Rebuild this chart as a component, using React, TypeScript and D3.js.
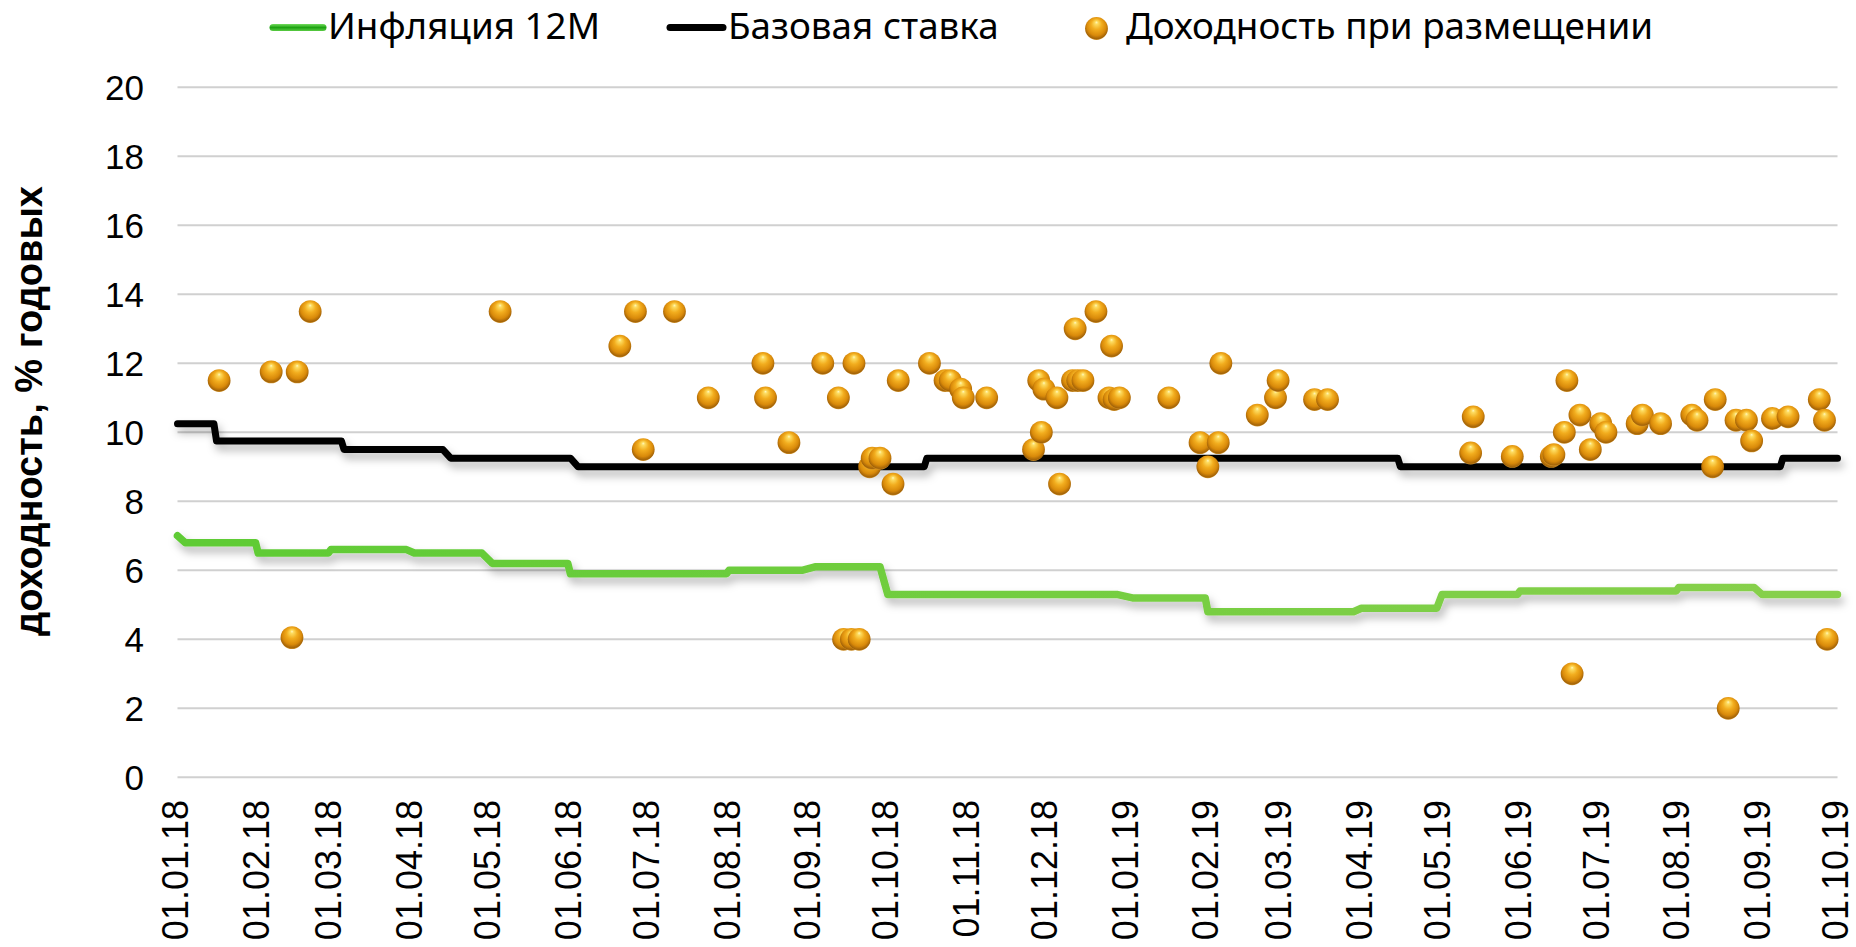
import React from "react";
import * as d3 from "d3";

// ---------- data ----------
const xTickLabels = [
  "01.01.18", "01.02.18", "01.03.18", "01.04.18", "01.05.18", "01.06.18",
  "01.07.18", "01.08.18", "01.09.18", "01.10.18", "01.11.18", "01.12.18",
  "01.01.19", "01.02.19", "01.03.19", "01.04.19", "01.05.19", "01.06.19",
  "01.07.19", "01.08.19", "01.09.19", "01.10.19",
];
const yTicks = [0, 2, 4, 6, 8, 10, 12, 14, 16, 18, 20];

const inflationDates = [
  "01.01.18", "04.01.18", "31.01.18", "01.02.18", "28.02.18", "01.03.18",
  "30.03.18", "02.04.18", "28.04.18", "02.05.18", "31.05.18", "01.06.18",
  "31.07.18", "01.08.18", "29.08.18", "03.09.18", "28.09.18", "01.10.18",
  "28.12.18", "03.01.19", "31.01.19", "01.02.19", "29.03.19", "01.04.19",
  "30.04.19", "02.05.19", "31.05.19", "01.06.19", "31.07.19", "01.08.19",
  "30.08.19", "02.09.19", "01.10.19",
];
const inflationValues = [
  7.0, 6.8, 6.8, 6.5, 6.5, 6.6,
  6.6, 6.5, 6.5, 6.2, 6.2, 5.9,
  5.9, 6.0, 6.0, 6.1, 6.1, 5.3,
  5.3, 5.2, 5.2, 4.8, 4.8, 4.9,
  4.9, 5.3, 5.3, 5.4, 5.4, 5.5,
  5.5, 5.3, 5.3,
];

const keyRateDates = [
  "01.01.18", "15.01.18", "16.01.18", "05.03.18", "06.03.18", "13.04.18",
  "16.04.18", "01.06.18", "04.06.18", "15.10.18", "16.10.18", "15.04.19",
  "16.04.19", "09.09.19", "10.09.19", "01.10.19",
];
const keyRateValues = [
  10.25, 10.25, 9.75, 9.75, 9.5, 9.5,
  9.25, 9.25, 9.0, 9.0, 9.25, 9.25,
  9.0, 9.0, 9.25, 9.25,
];

const placementDates = [
  "17.01.18", "06.02.18", "14.02.18", "16.02.18", "21.02.18", "05.05.18",
  "20.06.18", "26.06.18", "29.06.18", "11.07.18", "24.07.18", "14.08.18",
  "15.08.18", "24.08.18", "06.09.18", "12.09.18", "14.09.18", "17.09.18",
  "20.09.18", "18.09.18", "24.09.18", "25.09.18", "28.09.18", "03.10.18",
  "05.10.18", "17.10.18", "23.10.18", "25.10.18", "29.10.18", "30.10.18",
  "08.11.18", "26.11.18", "28.11.18", "29.11.18", "30.11.18", "05.12.18",
  "06.12.18", "11.12.18", "12.12.18", "13.12.18", "15.12.18", "20.12.18",
  "25.12.18", "26.12.18", "27.12.18", "29.12.18", "17.01.19", "29.01.19",
  "01.02.19", "05.02.19", "06.02.19", "20.02.19", "27.02.19", "28.02.19",
  "14.03.19", "19.03.19", "13.05.19", "14.05.19", "29.05.19", "13.06.19",
  "14.06.19", "18.06.19", "19.06.19", "21.06.19", "24.06.19", "28.06.19",
  "02.07.19", "04.07.19", "16.07.19", "18.07.19", "25.07.19", "06.08.19",
  "08.08.19", "14.08.19", "15.08.19", "20.08.19", "23.08.19", "27.08.19",
  "29.08.19", "06.09.19", "12.09.19", "24.09.19", "26.09.19", "27.09.19",
];
const placementYields = [
  11.5, 11.75, 4.05, 11.75, 13.5, 13.5,
  12.5, 13.5, 9.5, 13.5, 11.0, 12.0,
  11.0, 9.7, 12.0, 11.0, 4.0, 4.0,
  4.0, 12.0, 9.0, 9.25, 9.25, 8.5,
  11.5, 12.0, 11.5, 11.5, 11.25, 11.0,
  11.0, 9.5, 11.5, 10.0, 11.25, 11.0,
  8.5, 11.5, 13.0, 11.5, 11.5, 13.5,
  11.0, 12.5, 10.95, 11.0, 11.0, 9.7,
  9.0, 9.7, 12.0, 10.5, 11.0, 11.5,
  10.95, 10.95, 9.4, 10.45, 9.3, 9.3,
  9.35, 10.0, 11.5, 3.0, 10.5, 9.5,
  10.25, 10.0, 10.25, 10.5, 10.25, 10.5,
  10.35, 9.0, 10.95, 2.0, 10.35, 10.35,
  9.75, 10.4, 10.45, 10.95, 10.35, 4.0,
];

const legendLabels = ["Инфляция 12М", "Базовая ставка", "Доходность при размещении"];
const yAxisTitle = "доходность, % годовых";

// ---------- chart ----------
const W = 1856;
const H = 947;
const parse = d3.timeParse("%d.%m.%y");
const sans = "'Liberation Sans', Arial, sans-serif";
const legendFont = "'Noto Sans', 'Open Sans', sans-serif";

export default function App() {
  const x = d3
    .scaleTime()
    .domain([parse(xTickLabels[0])!, parse(xTickLabels[xTickLabels.length - 1])!])
    .range([177.5, 1837.5]);
  const y = d3.scaleLinear().domain([0, 20]).range([777.3, 87.3]);

  const line = d3
    .line<[Date, number]>()
    .x((d) => x(d[0]))
    .y((d) => y(d[1]));

  const inflation: [Date, number][] = inflationDates.map((d, i) => [parse(d)!, inflationValues[i]]);
  const keyRate: [Date, number][] = keyRateDates.map((d, i) => [parse(d)!, keyRateValues[i]]);
  const points = placementDates.map((d, i) => ({ date: parse(d)!, v: placementYields[i] }));

  const r = 11.4;
  const [x0, x1] = x.range();

  return (
    <svg
      width={W}
      height={H}
      style={{ position: "absolute", left: 0, top: 0, background: "#fff" }}
    >
      <defs>
        <radialGradient id="ball" cx="50%" cy="45%" r="58%" fx="50%" fy="22%">
          <stop offset="0%" stopColor="#fff8c0" />
          <stop offset="12%" stopColor="#fddc60" />
          <stop offset="40%" stopColor="#f2ad1e" />
          <stop offset="72%" stopColor="#d98a0a" />
          <stop offset="90%" stopColor="#a46408" />
          <stop offset="100%" stopColor="#e6a93a" />
        </radialGradient>
        <linearGradient id="greenLine" gradientUnits="userSpaceOnUse" x1={x0} x2={x1} y1="0" y2="0">
          <stop offset="0%" stopColor="#5ecb34" />
          <stop offset="100%" stopColor="#88d04c" />
        </linearGradient>
        <linearGradient id="greenLegend" gradientUnits="userSpaceOnUse" x1="0" x2="0" y1="24" y2="31">
          <stop offset="0%" stopColor="#74dd5e" />
          <stop offset="50%" stopColor="#1ea312" />
          <stop offset="100%" stopColor="#5acb44" />
        </linearGradient>
        <filter id="shadow" x="-5%" y="-50%" width="110%" height="200%">
          <feDropShadow dx="3" dy="6" stdDeviation="4" floodColor="#000" floodOpacity="0.28" />
        </filter>
      </defs>

      {/* gridlines */}
      <g>
        {yTicks.map((t) => (
          <line key={t} x1={x0} x2={x1} y1={y(t)} y2={y(t)} stroke="#d0d0d0" strokeWidth={2} />
        ))}
      </g>

      {/* y tick labels */}
      <g fontFamily={sans} fontSize={35} fill="#000" textAnchor="end">
        {yTicks.map((t) => (
          <text key={t} x={144} y={y(t)} dy="0.36em">
            {t}
          </text>
        ))}
      </g>

      {/* y axis title */}
      <text
        transform={`translate(42, ${411}) rotate(-90)`}
        textAnchor="middle"
        fontFamily={sans}
        fontWeight="bold"
        fontSize={38}
        fill="#000"
      >
        {yAxisTitle}
      </text>

      {/* x tick labels */}
      <g fontFamily={sans} fontSize={36} fill="#000">
        {xTickLabels.map((l) => {
          const px = x(parse(l)!);
          return (
            <text
              key={l}
              transform={`translate(${px}, 800) rotate(-90)`}
              textAnchor="end"
              dy="0.29em"
            >
              {l}
            </text>
          );
        })}
      </g>

      {/* lines */}
      <path
        d={line(inflation) ?? ""}
        fill="none"
        stroke="url(#greenLine)"
        strokeWidth={7.5}
        strokeLinejoin="round"
        strokeLinecap="round"
        filter="url(#shadow)"
      />
      <path
        d={line(keyRate) ?? ""}
        fill="none"
        stroke="#000"
        strokeWidth={7}
        strokeLinejoin="round"
        strokeLinecap="round"
        filter="url(#shadow)"
      />

      {/* scatter */}
      <g>
        {points.map((p, i) => (
          <circle key={i} cx={x(p.date)} cy={y(p.v)} r={r} fill="url(#ball)" />
        ))}
      </g>

      {/* legend */}
      <g fontFamily={legendFont} fontSize={36.8} fill="#000">
        <line x1={273} x2={323} y1={27.5} y2={27.5} stroke="url(#greenLegend)" strokeWidth={7} strokeLinecap="round" />
        <text x={328} y={39}>{legendLabels[0]}</text>
        <line x1={670} x2={723} y1={27.5} y2={27.5} stroke="#000" strokeWidth={7} strokeLinecap="round" />
        <text x={728} y={39}>{legendLabels[1]}</text>
        <circle cx={1096.5} cy={28.5} r={r} fill="url(#ball)" />
        <text x={1126} y={39}>{legendLabels[2]}</text>
      </g>
    </svg>
  );
}
